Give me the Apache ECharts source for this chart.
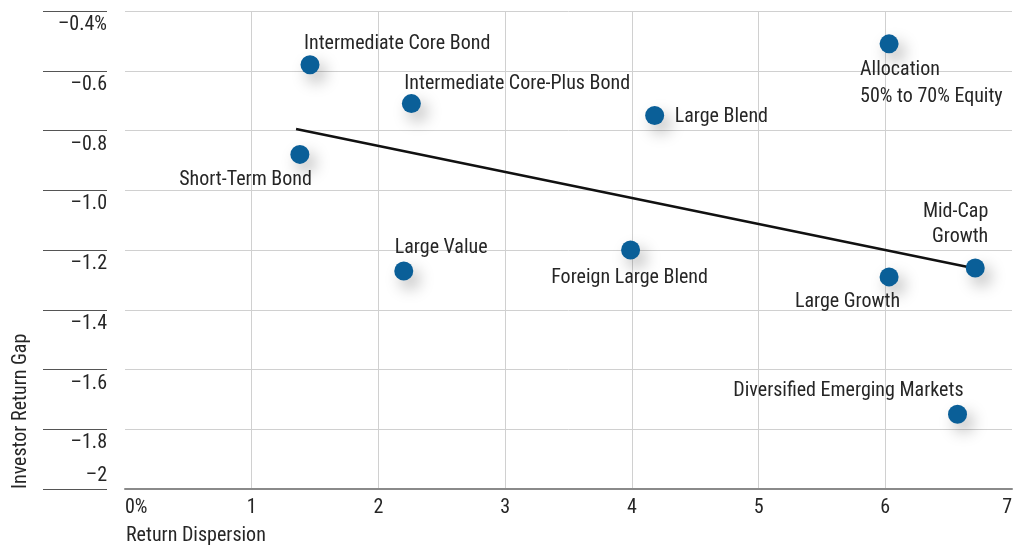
<!DOCTYPE html>
<html>
<head>
<meta charset="utf-8">
<script src="https://cdn.jsdelivr.net/npm/echarts@6/dist/echarts.min.js"></script>
<style>
  html, body { margin: 0; padding: 0; background: #ffffff; }
  #chart { width: 1024px; height: 545px; }
</style>
</head>
<body>
<div id="chart"></div>
<script>
// Category groups: return dispersion (x, %) vs investor return gap (y, %)
const categories = [
  'Intermediate Core Bond',
  'Intermediate Core-Plus Bond',
  'Short-Term Bond',
  'Large Blend',
  'Allocation\n50% to 70% Equity',
  'Large Value',
  'Foreign Large Blend',
  'Large Growth',
  'Mid-Cap\nGrowth',
  'Diversified Emerging Markets'
];
const returnDispersion = [1.46, 2.26, 1.38, 4.18, 6.03, 2.20, 3.99, 6.03, 6.71, 6.57];
const investorReturnGap = [-0.58, -0.71, -0.88, -0.75, -0.51, -1.27, -1.20, -1.29, -1.26, -1.75];

// Fitted trend line end points
const trendX = [1.35, 6.71];
const trendY = [-0.795, -1.262];

// Axis tick labels (bottom to top / left to right)
const yTickLabels = ['–2', '–1.8', '–1.6', '–1.4', '–1.2', '–1.0', '–0.8', '–0.6', '–0.4%'];
const xTickLabels = ['0%', '1', '2', '3', '4', '5', '6', '7'];

const FONT = '"Roboto Condensed", "DejaVu Sans Condensed", "Liberation Sans Narrow", sans-serif';
const FS = 20;
const TEXT = '#262626';

// Label placement around each dot: [align, dx, dy, lineHeight]
const labelPlacement = {
  'Intermediate Core Bond': ['left', -6, -21, 26],
  'Intermediate Core-Plus Bond': ['left', -7, -20, 26],
  'Short-Term Bond': ['right', 12, 26, 26],
  'Large Blend': ['left', 20, 1, 26],
  'Allocation\n50% to 70% Equity': ['left', -29, 40, 27],
  'Large Value': ['left', -9, -23, 26],
  'Foreign Large Blend': ['center', -1, 28, 26],
  'Large Growth': ['right', 11, 25, 26],
  'Mid-Cap\nGrowth': ['right', 13, -43, 25],
  'Diversified Emerging Markets': ['right', 6, -23, 26]
};

const points = categories.map((name, i) => {
  const p = labelPlacement[name];
  return {
    name: name,
    value: [returnDispersion[i], investorReturnGap[i]],
    label: {
      show: true,
      formatter: name,
      position: 'inside',
      align: p[0],
      verticalAlign: 'middle',
      offset: [p[1], p[2]],
      lineHeight: p[3]
    }
  };
});

const yRange = { min: -2, max: -0.4, interval: 0.2 };

const chart = echarts.init(document.getElementById('chart'), null, { renderer: 'canvas' });

chart.setOption({
  animation: false,
  backgroundColor: '#ffffff',
  textStyle: { fontFamily: FONT },
  grid: [
    // plot area
    { left: 125, right: 12, top: 11, bottom: 56, outerBoundsMode: 'none', containLabel: false },
    // tick-label gutter on the left
    { left: 43, right: 917, top: 11, bottom: 56, outerBoundsMode: 'none', containLabel: false }
  ],
  xAxis: [
    {
      type: 'value',
      gridIndex: 0,
      min: 0,
      max: 7,
      interval: 1,
      name: 'Return Dispersion',
      nameLocation: 'start',
      nameGap: 0,
      nameMoveOverlap: false,
      nameTextStyle: {
        fontFamily: FONT, fontSize: FS, color: TEXT,
        align: 'left', verticalAlign: 'top', padding: [37, 0, 0, 1]
      },
      axisLine: { show: true, onZero: false, lineStyle: { color: '#8a8a8a', width: 2 } },
      axisTick: { show: false },
      splitLine: { show: true, showMinLine: false, showMaxLine: false, lineStyle: { color: '#d0d0d0', width: 1 } },
      axisLabel: {
        fontFamily: FONT, fontSize: FS, color: TEXT, margin: 9,
        alignMinLabel: 'left', alignMaxLabel: 'right',
        formatter: (v) => xTickLabels[Math.round(v)]
      }
    },
    {
      type: 'value',
      gridIndex: 1,
      min: 0,
      max: 1,
      show: false
    }
  ],
  yAxis: [
    {
      type: 'value',
      gridIndex: 0,
      min: yRange.min,
      max: yRange.max,
      interval: yRange.interval,
      name: 'Investor Return Gap',
      nameLocation: 'start',
      nameGap: 0,
      nameRotate: 90,
      nameMoveOverlap: false,
      nameTextStyle: {
        fontFamily: FONT, fontSize: FS, color: TEXT,
        align: 'left', verticalAlign: 'bottom', padding: [0, 0, 94, 0]
      },
      axisLine: { show: false },
      axisTick: { show: false },
      axisLabel: { show: false },
      splitLine: { show: true, lineStyle: { color: '#d0d0d0', width: 1 } }
    },
    {
      // rule lines and labels in the left gutter
      type: 'value',
      gridIndex: 1,
      position: 'right',
      min: yRange.min,
      max: yRange.max,
      interval: yRange.interval,
      axisLine: { show: false },
      axisTick: { show: false },
      splitLine: { show: true, lineStyle: { color: '#555555', width: 1 } },
      axisLabel: {
        inside: true,
        fontFamily: FONT, fontSize: FS, color: TEXT, margin: 0,
        verticalAlign: 'top', padding: [4, 0, 0, 0],
        formatter: (v, i) => (i === 0 ? '' : yTickLabels[i])
      }
    },
    {
      // bottom label sits above the base rule
      type: 'value',
      gridIndex: 1,
      position: 'right',
      min: yRange.min,
      max: yRange.max,
      interval: yRange.interval,
      axisLine: { show: false },
      axisTick: { show: false },
      splitLine: { show: false },
      axisLabel: {
        inside: true,
        fontFamily: FONT, fontSize: FS, color: TEXT, margin: 0,
        verticalAlign: 'bottom', padding: [0, 0, 3, 0],
        formatter: (v, i) => (i === 0 ? yTickLabels[0] : '')
      }
    }
  ],
  series: [
    {
      type: 'line',
      name: 'Trend',
      xAxisIndex: 0,
      yAxisIndex: 0,
      data: trendX.map((x, i) => [x, trendY[i]]),
      symbol: 'none',
      lineStyle: { color: '#111111', width: 2.5 },
      z: 2,
      silent: true
    },
    {
      type: 'scatter',
      name: 'Categories',
      xAxisIndex: 0,
      yAxisIndex: 0,
      data: points,
      symbol: 'circle',
      symbolSize: 19,
      itemStyle: {
        color: '#0a5f98',
        opacity: 1,
        shadowColor: 'rgba(0,0,0,0.28)',
        shadowBlur: 16,
        shadowOffsetX: 6,
        shadowOffsetY: 8
      },
      label: {
        fontFamily: FONT,
        fontSize: FS,
        color: TEXT
      },
      z: 3
    }
  ]
});
</script>
</body>
</html>
